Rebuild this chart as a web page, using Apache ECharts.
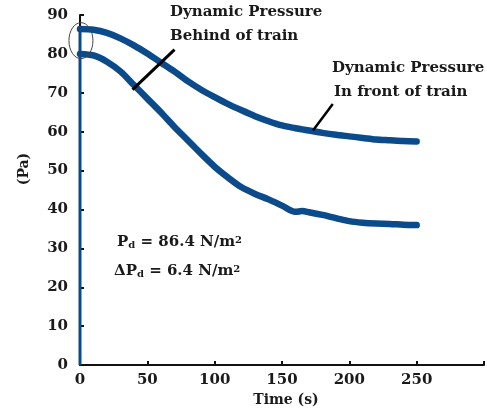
<!DOCTYPE html>
<html>
<head>
  <meta charset="UTF-8">
  <script src="https://cdn.jsdelivr.net/npm/echarts@6/dist/echarts.min.js"></script>
</head>
<body style="margin:0">
  <div id="main" style="width:487px;height:412px;"></div>

  <script type="text/javascript">
    // time axis (s)
    var times = [0, 10, 20, 30, 40, 50, 60, 70, 80, 90, 100, 110, 120, 130, 140, 150, 160, 165, 170, 180, 190, 200, 210, 220, 230, 240, 250];
    // upper curve - dynamic pressure in front of train (Pa)
    var frontP = [86.4, 86.2, 85.4, 84.0, 82.2, 80.1, 77.8, 75.5, 73.0, 70.8, 68.9, 67.1, 65.5, 64.0, 62.7, 61.6, 60.9, 60.6, 60.3, 59.7, 59.2, 58.8, 58.4, 58.0, 57.8, 57.6, 57.5];
    // lower curve - dynamic pressure behind of train (Pa)
    var behindP = [80.0, 79.6, 78.0, 75.5, 72.0, 68.5, 65.0, 61.3, 57.8, 54.3, 51.0, 48.2, 45.7, 44.0, 42.6, 41.0, 39.4, 39.6, 39.3, 38.6, 37.8, 37.0, 36.6, 36.4, 36.3, 36.1, 36.0];
    // rise along the pressure axis at t = 0
    var riseT = [0, 0];
    var riseP = [0, 86.4];

    var yTicks = [0, 10, 20, 30, 40, 50, 60, 70, 80, 90];
    var xTicks = [0, 50, 100, 150, 200, 250];

    function pairs(xs, ys) {
      return xs.map(function (x, i) { return [x, ys[i]]; });
    }

    var blue = '#0b4a8b';
    var font = 'DejaVu Serif';

    var myChart = echarts.init(document.getElementById('main'));

    myChart.setOption({
      animation: false,
      backgroundColor: '#fff',
      grid: { left: 80, right: -2, top: 15, bottom: 43 },
      xAxis: {
        type: 'value',
        min: 0, max: 300, interval: 50,
        name: 'Time (s)',
        nameLocation: 'middle',
        nameGap: 26,
        nameTextStyle: { fontFamily: font, fontWeight: 'bold', fontSize: 14, color: '#1a1a1a', padding: [0, 0, 0, 8] },
        axisLine: { lineStyle: { color: '#111', width: 2 } },
        axisTick: { inside: true, length: 4, lineStyle: { color: '#111', width: 2 } },
        axisLabel: {
          fontFamily: font, fontWeight: 'bold', fontSize: 15, color: '#1a1a1a', margin: 8,
          formatter: function (v) { return xTicks.indexOf(v) >= 0 ? String(v) : ''; }
        },
        splitLine: { show: false }
      },
      yAxis: {
        type: 'value',
        min: 0, max: 90, interval: 10,
        axisLine: { lineStyle: { color: '#111', width: 2 } },
        axisTick: { inside: true, length: 4, lineStyle: { color: '#111', width: 2 } },
        axisLabel: {
          fontFamily: font, fontWeight: 'bold', fontSize: 15, color: '#1a1a1a', margin: 12,
          formatter: function (v) { return yTicks.indexOf(v) >= 0 ? String(v) : ''; }
        },
        splitLine: { show: false }
      },
      series: [
        {
          name: 'rise', type: 'line', data: pairs(riseT, riseP),
          symbol: 'none', lineStyle: { color: blue, width: 3 }, z: 3
        },
        {
          name: 'front', type: 'line', data: pairs(times, frontP),
          symbol: 'none', smooth: 0.3, lineStyle: { color: blue, width: 6.5, cap: 'round' }
        },
        {
          name: 'behind', type: 'line', data: pairs(times, behindP),
          symbol: 'none', smooth: 0.3, lineStyle: { color: blue, width: 6.5, cap: 'round' }
        }
      ]
    });

    // annotations placed from data coordinates
    var p = function (t, v) { return myChart.convertToPixel({ gridIndex: 0 }, [t, v]); };
    var l1a = p(39, 70.8), l1b = p(70.2, 81.1);
    var l2a = p(173, 60.3), l2b = p(187.7, 67.1);
    var ec = p(0.7, 83.4);
    var txt = { fontFamily: font, fontWeight: 'bold', fontSize: 15, fill: '#1a1a1a' };

    myChart.setOption({
      graphic: [
        { type: 'line', shape: { x1: l1a[0], y1: l1a[1], x2: l1b[0], y2: l1b[1] }, style: { stroke: '#000', lineWidth: 3 }, z: 10 },
        { type: 'line', shape: { x1: l2a[0], y1: l2a[1], x2: l2b[0], y2: l2b[1] }, style: { stroke: '#000', lineWidth: 2.5 }, z: 10 },
        { type: 'ellipse', shape: { cx: ec[0], cy: ec[1], rx: 12, ry: 18 }, style: { fill: 'none', stroke: '#444', lineWidth: 1 }, z: 10 },
        { type: 'text', left: 170, top: 5, style: Object.assign({ text: 'Dynamic Pressure' }, txt) },
        { type: 'text', left: 170, top: 29, style: Object.assign({ text: 'Behind of train' }, txt) },
        { type: 'text', left: 332, top: 61, style: Object.assign({ text: 'Dynamic Pressure' }, txt) },
        { type: 'text', left: 334, top: 85, style: Object.assign({ text: 'In front of train' }, txt) },
        {
          type: 'text', x: 24, y: 169, rotation: Math.PI / 2,
          style: Object.assign({ text: '(Pa)', align: 'center', verticalAlign: 'middle' }, txt, { fontSize: 14 })
        },
        {
          type: 'text', left: 117, top: 235,
          style: {
            text: '{p|P}{d|d}{t| = 86.4 N/m}{s|2}',
            rich: {
              p: { fontFamily: font, fontWeight: 'bold', fontSize: 15, fill: '#1a1a1a' },
              d: { fontFamily: font, fontWeight: 'bold', fontSize: 10, fill: '#1a1a1a', verticalAlign: 'bottom' },
              t: { fontFamily: font, fontWeight: 'bold', fontSize: 15, fill: '#1a1a1a' },
              s: { fontFamily: font, fontWeight: 'bold', fontSize: 10, fill: '#1a1a1a', verticalAlign: 'top' }
            }
          }
        },
        {
          type: 'text', left: 114, top: 264,
          style: {
            text: '{p|ΔP}{d|d}{t| = 6.4 N/m}{s|2}',
            rich: {
              p: { fontFamily: font, fontWeight: 'bold', fontSize: 15, fill: '#1a1a1a' },
              d: { fontFamily: font, fontWeight: 'bold', fontSize: 10, fill: '#1a1a1a', verticalAlign: 'bottom' },
              t: { fontFamily: font, fontWeight: 'bold', fontSize: 15, fill: '#1a1a1a' },
              s: { fontFamily: font, fontWeight: 'bold', fontSize: 10, fill: '#1a1a1a', verticalAlign: 'top' }
            }
          }
        }
      ]
    });
  </script>
</body>
</html>
